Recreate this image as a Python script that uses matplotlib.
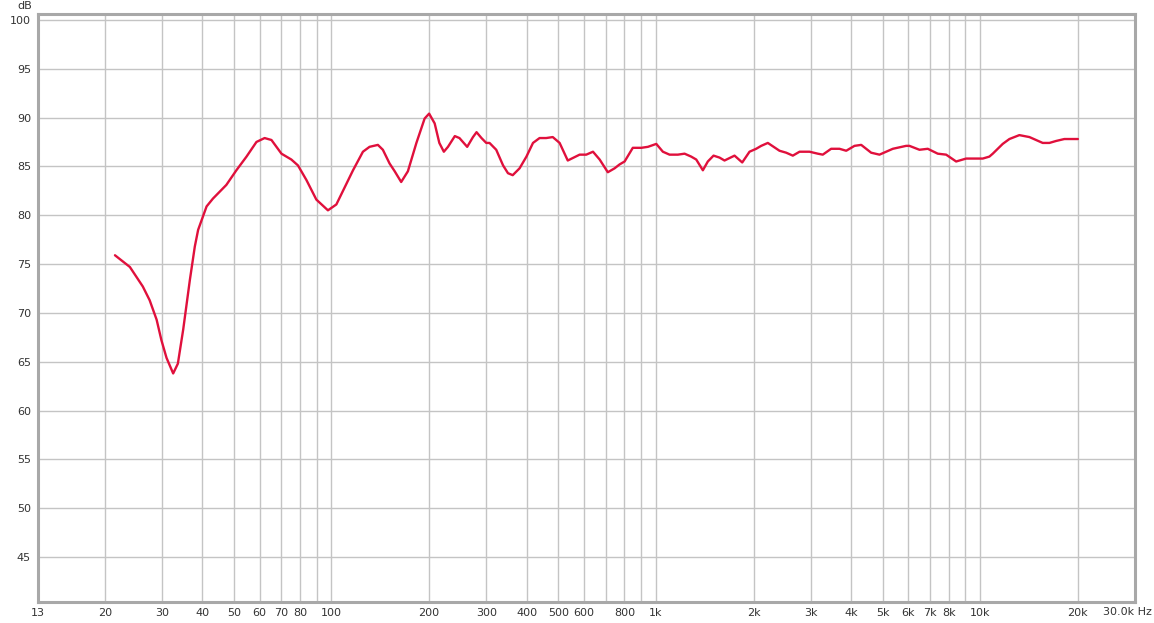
import matplotlib.pyplot as plt
from matplotlib.ticker import NullLocator

# frequency response (Hz, dB)
freq = [21.5, 23.9, 26.2, 27.5, 28.9, 29.9, 31.0, 32.5, 33.6, 34.9, 36.6, 37.9, 38.8,
        41.2, 43.1, 47.4, 50.9, 54.7, 58.7, 62.2, 65.3, 70.1, 75.2, 78.8, 83.7, 89.8,
        97.5, 103.5, 116.5, 125, 131, 139, 144, 151, 156.6, 164, 172, 182.7, 193.7,
        200, 208, 215, 222, 228.6, 240, 248, 262, 273, 280, 290, 300, 307, 322, 338,
        350, 362, 380, 399, 418, 438, 459, 481, 505, 535, 582, 610, 640, 671, 711,
        746, 773, 801, 849, 902, 945, 1003, 1051, 1102, 1169, 1226, 1285, 1332, 1396,
        1446, 1506, 1571, 1628, 1748, 1846, 1944, 2038, 2112, 2214, 2405, 2522, 2644,
        2773, 2976, 3156, 3270, 3470, 3682, 3862, 4096, 4296, 4610, 4890, 5377, 5910,
        6050, 6496, 6890, 7396, 7850, 8428, 9046, 10180, 10670, 10930, 11730, 12300,
        13200, 14180, 15580, 16340, 17130, 18170, 20000]
spl = [75.9, 74.7, 72.7, 71.3, 69.3, 67.2, 65.4, 63.8, 64.8, 68.3, 73.4, 76.8, 78.5,
       80.9, 81.7, 83.1, 84.6, 86.0, 87.5, 87.9, 87.7, 86.3, 85.7, 85.1, 83.6, 81.6,
       80.5, 81.1, 84.6, 86.5, 87.0, 87.2, 86.7, 85.3, 84.5, 83.4, 84.5, 87.4, 89.9,
       90.4, 89.4, 87.4, 86.5, 87.0, 88.1, 87.9, 87.0, 88.0, 88.5, 87.9, 87.4, 87.4,
       86.7, 85.1, 84.3, 84.1, 84.8, 86.0, 87.4, 87.9, 87.9, 88.0, 87.4, 85.6, 86.2,
       86.2, 86.5, 85.7, 84.4, 84.8, 85.2, 85.5, 86.9, 86.9, 87.0, 87.3, 86.5, 86.2,
       86.2, 86.3, 86.0, 85.7, 84.6, 85.5, 86.1, 85.9, 85.6, 86.1, 85.4, 86.5, 86.8,
       87.1, 87.4, 86.6, 86.4, 86.1, 86.5, 86.5, 86.3, 86.2, 86.8, 86.8, 86.6, 87.1,
       87.2, 86.4, 86.2, 86.8, 87.1, 87.1, 86.7, 86.8, 86.3, 86.2, 85.5, 85.8, 85.8,
       86.0, 86.3, 87.3, 87.8, 88.2, 88.0, 87.4, 87.4, 87.6, 87.8, 87.8]

xticks = [12.45, 20, 30, 40, 50, 60, 70, 80, 90, 100, 200, 300, 400, 500, 600, 700,
          800, 900, 1000, 2000, 3000, 4000, 5000, 6000, 7000, 8000, 9000, 10000,
          20000, 30000]
xlabels = ['13', '20', '30', '40', '50', '60', '70', '80', '', '100', '200', '300',
           '400', '500', '600', '', '800', '', '1k', '2k', '3k', '4k', '5k', '6k',
           '7k', '8k', '', '10k', '20k', '']
yticks = [45, 50, 55, 60, 65, 70, 75, 80, 85, 90, 95, 100]

fig = plt.figure(figsize=(11.54, 6.23), dpi=100)
ax = fig.add_axes([38/1154, 21/623, 1097/1154, 588/623])

ax.semilogx(freq, spl, color='#e0103c', lw=1.7, solid_capstyle='round',
            solid_joinstyle='round')
ax.set_xlim(12.45, 30000)
ax.set_ylim(40.4, 100.6)

ax.set_xticks(xticks)
ax.set_xticklabels(xlabels)
ax.xaxis.set_minor_locator(NullLocator())
ax.set_yticks(yticks)
ax.tick_params(length=0, labelsize=8, colors='#333333')
ax.tick_params(axis='x', pad=4)
ax.tick_params(axis='y', pad=5)
ax.grid(True, color='#c4c4c4', lw=1)
ax.set_axisbelow(True)

for s in ax.spines.values():
    s.set_color('#a8a8a8')
    s.set_linewidth(2.2)

fig.text(25/1154, 1 - 6/623, 'dB', ha='center', va='center', fontsize=8, color='#333333')
fig.text(1152/1154, 1 - 612/623, '30.0k Hz', ha='right', va='center', fontsize=8,
         color='#333333')

fig.savefig('out.png', dpi=100)
